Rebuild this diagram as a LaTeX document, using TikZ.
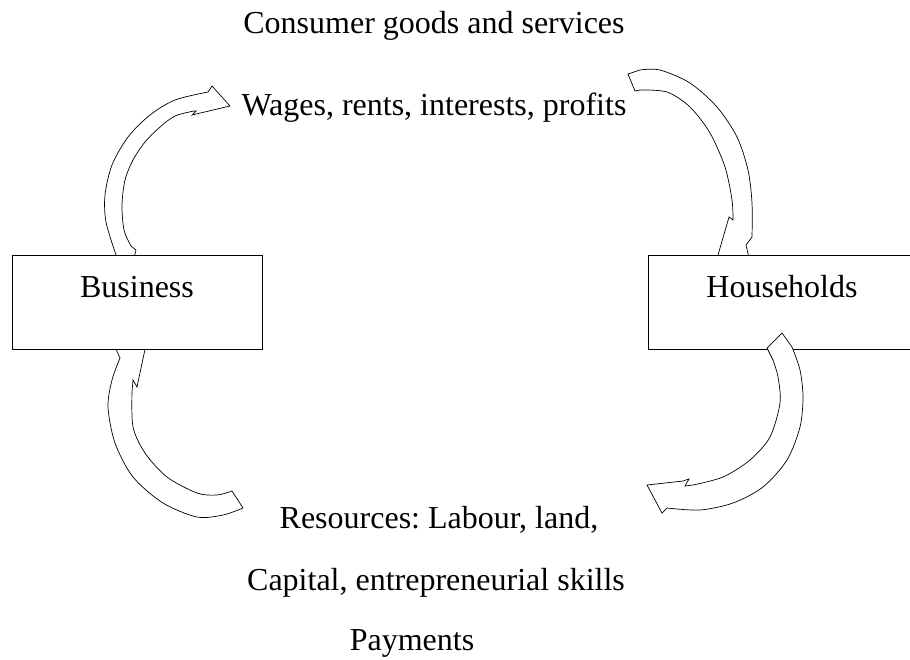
\documentclass[tikz,border=0pt]{standalone}
\usepackage{fontspec}
\setmainfont{Liberation Serif}
\usetikzlibrary{calc}
\frenchspacing

\begin{document}
\begin{tikzpicture}[x=1pt,y=-1pt,inner sep=0pt,outer sep=0pt,
txt/.style={font=\fontsize{32}{38}\selectfont,anchor=base},
sysbox/.style={draw,fill=white,rectangle,minimum height=94pt,line width=1pt},
flowarrow/.style={draw,fill=white,line width=0.7pt,line join=miter}]

\useasboundingbox (0,0) rectangle (910,659);
\clip (0,0) rectangle (910,659);

\draw (434,33) node[txt] (goods) {Consumer goods and services};
\draw (434,115) node[txt] (wages) {Wages, rents, interests, profits};
\draw (439,528) node[txt] (res) {Resources: Labour, land,};
\draw (436,590) node[txt] (cap) {Capital, entrepreneurial skills};
\draw (412,650) node[txt] (pay) {Payments};

% block arrows, the boxes hide their ends
\draw[flowarrow] (116,262) -- plot[smooth] coordinates {(116,255) (106,222) (105,195) (112,165) (128,137) (150,115) (175,100) (208,92)}
  -- (212,86) -- (230,106) -- (192,115) -- (196,111)
  -- plot[smooth] coordinates {(194,111) (175,116) (160,127) (145,142) (133,160) (125,180) (122,205) (124,230) (131,246)}
  -- (136,250) -- (133,262) -- cycle;
\draw[flowarrow] (635,91) -- (628,74) -- plot[smooth] coordinates {(640,70) (660,70) (690,83) (717,107) (737,137) (748,170) (752,203) (752,237)}
  -- (746,245) -- (750,262) -- (745,285) -- (716,262) -- (729,217)
  -- plot[smooth] coordinates {(733,220) (732,200) (725,167) (710,133) (690,107) (667,92) (640,90)} -- cycle;
\draw[flowarrow] (232,491) -- plot[smooth] coordinates {(243,508) (223,515) (197,517) (163,503) (133,477) (115,443) (108,407) (112,380) (120,358)}
  -- (112,340) -- (128,322) -- (147,340) -- (137,387) -- (133,380)
  -- plot[smooth] coordinates {(132,392) (133,427) (145,453) (167,477) (197,493) (217,495) (232,491)} -- cycle;

\draw (137,302) node[sysbox,minimum width=250pt] (bus) {};
\draw (782,302) node[sysbox,minimum width=268pt] (hh) {};
\draw ($(bus.north)+(0,42)$) node[txt] (busT) {Business};
\draw ($(hh.north)+(0,42)$) node[txt] (hhT) {Households};

\draw[flowarrow] (767,348) -- (782,333) -- plot[smooth] coordinates {(792,347) (800,370) (803,397) (800,427) (787,460) (763,487) (733,503) (700,510) (667,508)}
  -- (662,513) -- (647,485) -- (683,481) -- (689,479) -- (685,486)
  -- plot[smooth] coordinates {(693,485) (723,477) (750,460) (770,437) (780,403) (778,377) (773,360)} -- cycle;
\end{tikzpicture}
\end{document}
